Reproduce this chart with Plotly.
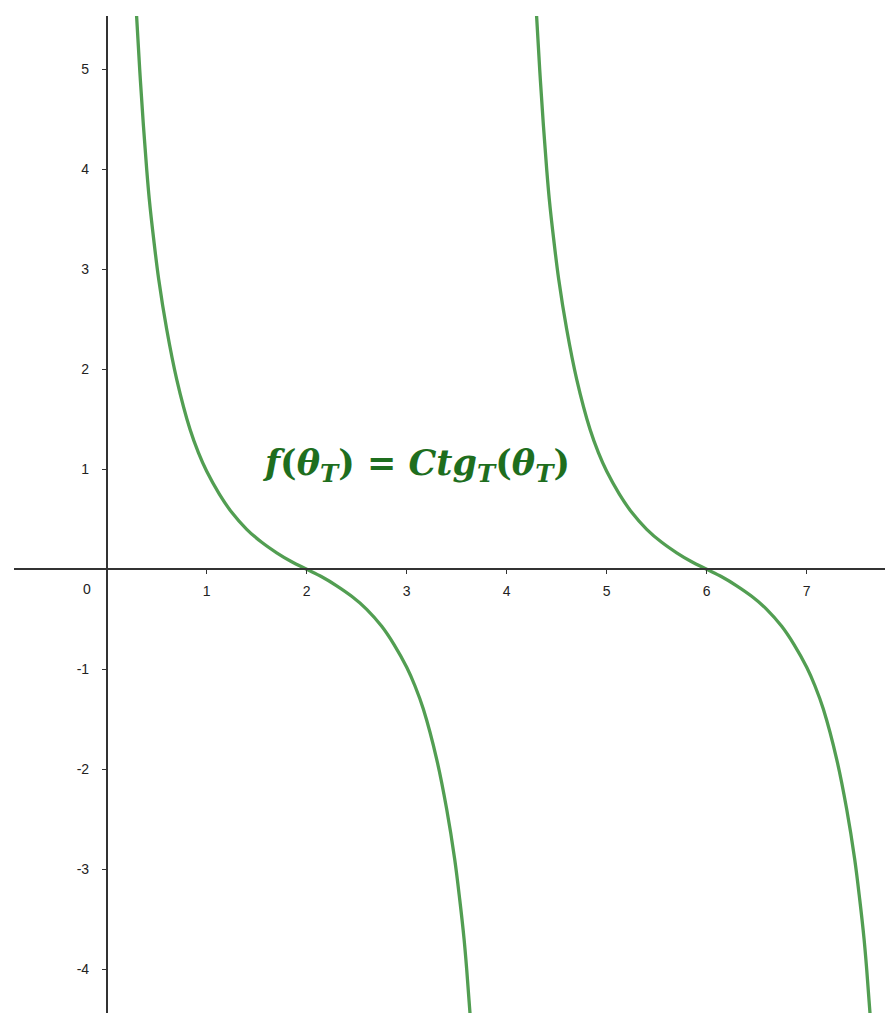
import plotly.graph_objects as go

# Branch values of f(theta_T) = Ctg_T(theta_T), read as (theta, f) pairs
theta_branch1 = [0.295, 0.33, 0.367, 0.40, 0.426, 0.47, 0.52, 0.60, 0.70, 0.833,
                 0.917, 1.00, 1.125, 1.25, 1.40, 1.55, 1.70, 1.85, 2.00, 2.15,
                 2.30, 2.45, 2.60, 2.75, 2.875, 3.00, 3.083, 3.167, 3.30, 3.40,
                 3.48, 3.53, 3.574, 3.60, 3.633, 3.67]
f_branch1 = [5.60, 5.00, 4.44, 4.00, 3.70, 3.30, 2.90, 2.40, 1.90, 1.40,
             1.167, 0.98, 0.755, 0.57, 0.40, 0.27, 0.165, 0.075, 0.00, -0.075,
             -0.165, -0.27, -0.40, -0.57, -0.755, -0.98, -1.167, -1.40, -1.90, -2.40,
             -2.90, -3.30, -3.70, -4.00, -4.44, -5.00]

theta_branch2 = [4.295, 4.33, 4.367, 4.40, 4.426, 4.47, 4.52, 4.60, 4.70, 4.833,
                 4.917, 5.00, 5.125, 5.25, 5.40, 5.55, 5.70, 5.85, 6.00, 6.15,
                 6.30, 6.45, 6.60, 6.75, 6.875, 7.00, 7.083, 7.167, 7.30, 7.40,
                 7.48, 7.53, 7.574, 7.60, 7.633, 7.67]
f_branch2 = [5.60, 5.00, 4.44, 4.00, 3.70, 3.30, 2.90, 2.40, 1.90, 1.40,
             1.167, 0.98, 0.755, 0.57, 0.40, 0.27, 0.165, 0.075, 0.00, -0.075,
             -0.165, -0.27, -0.40, -0.57, -0.755, -0.98, -1.167, -1.40, -1.90, -2.40,
             -2.90, -3.30, -3.70, -4.00, -4.44, -5.00]

x_ticks = [1, 2, 3, 4, 5, 6, 7]
y_ticks = [-4, -3, -2, -1, 1, 2, 3, 4, 5]

x_range = [-0.927, 7.783]
y_range = [-4.437, 5.533]

curve_color = "#529E52"
label_color = "#1E6E1E"
axis_color = "#333333"

fig = go.Figure()
for xs, ys in [(theta_branch1, f_branch1), (theta_branch2, f_branch2)]:
    fig.add_trace(go.Scatter(
        x=xs, y=ys, mode="lines",
        line=dict(color=curve_color, width=3.3, shape="spline", smoothing=1.0),
        hoverinfo="skip", showlegend=False,
    ))

# axes cross at the origin
y_axis_pos = (0 - x_range[0]) / (x_range[1] - x_range[0])
x_axis_pos = (0 - y_range[0]) / (y_range[1] - y_range[0])

tick_font = dict(family="Liberation Sans, Arial, sans-serif", size=14, color="#222222")

fig.update_layout(
    width=888, height=1013, autosize=False,
    margin=dict(l=14, r=3, t=16, b=0),
    paper_bgcolor="white", plot_bgcolor="white",
    xaxis=dict(
        range=x_range, showgrid=False, zeroline=False,
        showline=True, linecolor=axis_color, linewidth=1.5,
        anchor="free", position=x_axis_pos,
        tickmode="array", tickvals=x_ticks, ticktext=[str(v) for v in x_ticks],
        ticks="outside", ticklen=4, tickwidth=1.2, tickcolor=axis_color,
        ticklabelstandoff=5, tickfont=tick_font,
    ),
    yaxis=dict(
        range=y_range, showgrid=False, zeroline=False,
        showline=True, linecolor=axis_color, linewidth=1.5,
        anchor="free", position=y_axis_pos,
        tickmode="array", tickvals=y_ticks, ticktext=[str(v) for v in y_ticks],
        ticks="outside", ticklen=4, tickwidth=1.2, tickcolor=axis_color,
        ticklabelstandoff=10, tickfont=tick_font,
    ),
)

# origin label
fig.add_annotation(
    x=0, y=0, xref="x", yref="y", text="0", showarrow=False,
    xanchor="right", yanchor="top", xshift=-14, yshift=-10,
    font=tick_font,
)

# function label
fig.add_annotation(
    x=3.09, y=1.04, xref="x", yref="y", showarrow=False,
    text="<b><i>f</i>(<i>θ<sub>T</sub></i>)&nbsp;=&nbsp;<i>Ctg<sub>T</sub></i>(<i>θ<sub>T</sub></i>)</b>",
    font=dict(family="DejaVu Serif, Liberation Serif, serif", size=35, color=label_color),
    xanchor="center", yanchor="middle",
)

fig.write_html("out.html")
